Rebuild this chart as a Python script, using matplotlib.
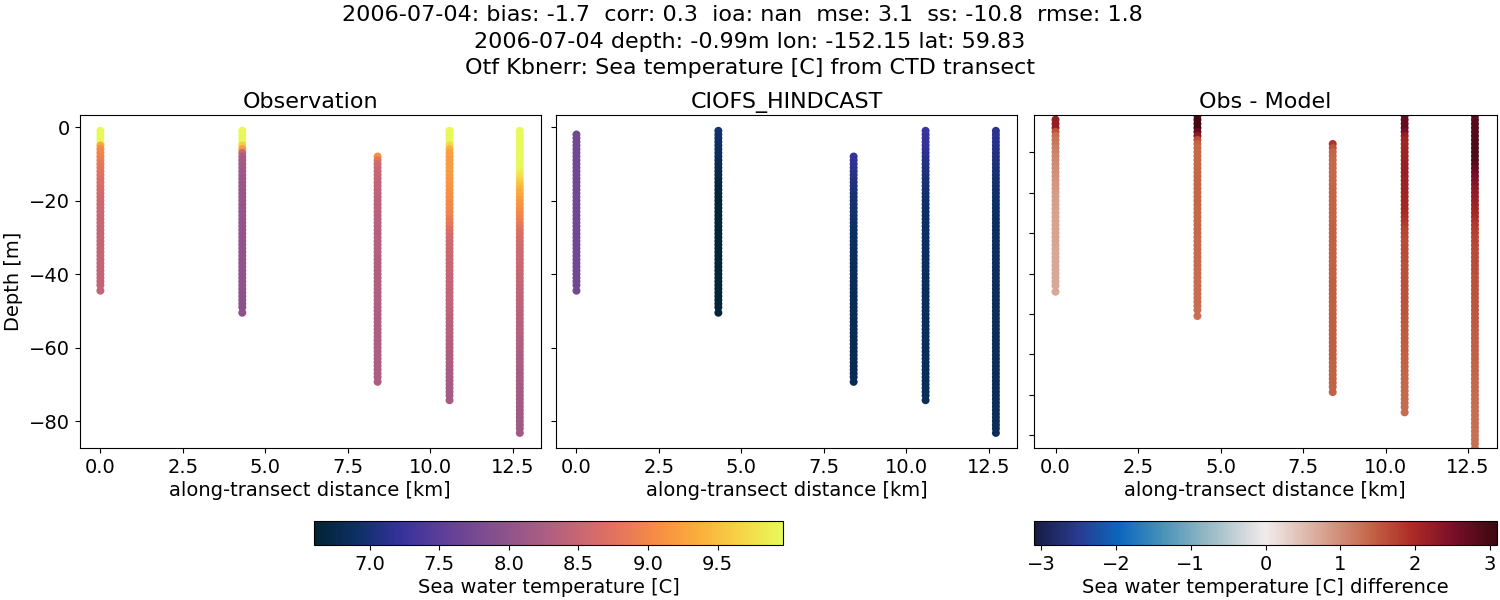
import numpy as np
import matplotlib
matplotlib.use("Agg")
import matplotlib.pyplot as plt
from matplotlib.colors import LinearSegmentedColormap, Normalize
from matplotlib.cm import ScalarMappable

# cast positions along the transect [km]
distance = [0.0, 4.30, 8.40, 10.58, 12.71]

# sample depths for each cast [m]
depth_0 = [-1, -2, -3, -4, -5, -6, -7, -8, -9, -10, -11, -12, -13, -14, -15, -16, -17, -18, -19, -20, -21, -22,
           -23, -24, -25, -26, -27, -28, -29, -30, -31, -32, -33, -34, -35, -36, -37, -38, -39, -40, -41, -42, -43, -44.5]
depth_1 = [-1, -2, -3, -4, -5, -6, -7, -8, -9, -10, -11, -12, -13, -14, -15, -16, -17, -18, -19, -20, -21, -22,
           -23, -24, -25, -26, -27, -28, -29, -30, -31, -32, -33, -34, -35, -36, -37, -38, -39, -40, -41, -42, -43,
           -44, -45, -46, -47, -48, -49, -50.5]
depth_2 = [-8, -9, -10, -11, -12, -13, -14, -15, -16, -17, -18, -19, -20, -21, -22, -23, -24, -25, -26, -27, -28,
           -29, -30, -31, -32, -33, -34, -35, -36, -37, -38, -39, -40, -41, -42, -43, -44, -45, -46, -47, -48, -49,
           -50, -51, -52, -53, -54, -55, -56, -57, -58, -59, -60, -61, -62, -63, -64, -65, -66, -67, -68, -69.3]
depth_3 = [-1, -2, -3, -4, -5, -6, -7, -8, -9, -10, -11, -12, -13, -14, -15, -16, -17, -18, -19, -20, -21, -22,
           -23, -24, -25, -26, -27, -28, -29, -30, -31, -32, -33, -34, -35, -36, -37, -38, -39, -40, -41, -42, -43,
           -44, -45, -46, -47, -48, -49, -50, -51, -52, -53, -54, -55, -56, -57, -58, -59, -60, -61, -62, -63, -64,
           -65, -66, -67, -68, -69, -70, -71, -72, -73, -74.3]
depth_4 = [-1, -2, -3, -4, -5, -6, -7, -8, -9, -10, -11, -12, -13, -14, -15, -16, -17, -18, -19, -20, -21, -22,
           -23, -24, -25, -26, -27, -28, -29, -30, -31, -32, -33, -34, -35, -36, -37, -38, -39, -40, -41, -42, -43,
           -44, -45, -46, -47, -48, -49, -50, -51, -52, -53, -54, -55, -56, -57, -58, -59, -60, -61, -62, -63, -64,
           -65, -66, -67, -68, -69, -70, -71, -72, -73, -74, -75, -76, -77, -78, -79, -80, -81, -82, -83.2]

obs_0 = [9.95, 9.95, 9.95, 9.95, 9.3, 9.05, 9.0, 8.95, 8.9, 8.85, 8.8, 8.78, 8.75, 8.72, 8.7, 8.68, 8.65, 8.62,
         8.6, 8.58, 8.56, 8.55, 8.53, 8.52, 8.5, 8.5, 8.5, 8.49, 8.49, 8.49, 8.48, 8.48, 8.48, 8.47, 8.47, 8.47,
         8.46, 8.46, 8.46, 8.46, 8.45, 8.45, 8.45, 8.45]
obs_1 = [9.95, 9.95, 9.95, 9.95, 9.6, 9.2, 8.5, 8.25, 8.2, 8.18, 8.15, 8.13, 8.12, 8.1, 8.1, 8.08, 8.08, 8.07,
         8.06, 8.05, 8.05, 8.04, 8.04, 8.03, 8.03, 8.02, 8.02, 8.02, 8.01, 8.01, 8.01, 8.0, 8.0, 8.0, 8.0, 8.0,
         7.99, 7.99, 7.99, 7.98, 7.98, 7.98, 7.97, 7.97, 7.97, 7.96, 7.96, 7.96, 7.95, 7.95]
obs_2 = [9.1, 8.8, 8.6, 8.55, 8.52, 8.5, 8.47, 8.45, 8.44, 8.43, 8.42, 8.41, 8.4, 8.39, 8.38, 8.37, 8.36, 8.35,
         8.35, 8.34, 8.34, 8.33, 8.33, 8.33, 8.32, 8.32, 8.32, 8.32, 8.31, 8.31, 8.31, 8.31, 8.3, 8.3, 8.3, 8.3,
         8.3, 8.29, 8.29, 8.29, 8.29, 8.28, 8.28, 8.28, 8.28, 8.27, 8.27, 8.27, 8.27, 8.26, 8.26, 8.26, 8.26, 8.26,
         8.25, 8.25, 8.25, 8.25, 8.25, 8.25, 8.25, 8.25]
obs_3 = [9.95, 9.95, 9.95, 9.95, 9.7, 9.4, 9.25, 9.22, 9.2, 9.2, 9.2, 9.2, 9.2, 9.18, 9.17, 9.15, 9.12, 9.1,
         9.07, 9.05, 9.02, 9.0, 8.97, 8.95, 8.9, 8.85, 8.8, 8.72, 8.65, 8.6, 8.58, 8.56, 8.55, 8.54, 8.53, 8.52,
         8.51, 8.5, 8.5, 8.5, 8.49, 8.48, 8.48, 8.47, 8.46, 8.46, 8.45, 8.44, 8.43, 8.42, 8.4, 8.39, 8.38, 8.37,
         8.36, 8.35, 8.34, 8.33, 8.32, 8.3, 8.29, 8.28, 8.27, 8.26, 8.25, 8.24, 8.23, 8.22, 8.22, 8.21, 8.21, 8.2,
         8.2, 8.2]
obs_4 = [9.97, 9.97, 9.97, 9.97, 9.97, 9.97, 9.97, 9.97, 9.97, 9.96, 9.95, 9.9, 9.8, 9.7, 9.6, 9.5, 9.4, 9.33,
         9.27, 9.2, 9.15, 9.1, 9.05, 9.0, 8.95, 8.9, 8.82, 8.75, 8.7, 8.66, 8.63, 8.6, 8.58, 8.56, 8.55, 8.54, 8.53,
         8.52, 8.51, 8.5, 8.49, 8.48, 8.47, 8.46, 8.45, 8.44, 8.43, 8.42, 8.41, 8.4, 8.39, 8.38, 8.37, 8.36, 8.35,
         8.34, 8.33, 8.32, 8.31, 8.3, 8.29, 8.28, 8.27, 8.26, 8.25, 8.24, 8.23, 8.22, 8.21, 8.2, 8.19, 8.19, 8.18,
         8.18, 8.17, 8.17, 8.16, 8.16, 8.15, 8.15, 8.15, 8.15, 8.15]

# model temperature, first cast has no value at the top level
model_0 = [np.nan, 7.72, 7.72, 7.72, 7.72, 7.72, 7.72, 7.72, 7.72, 7.72, 7.72, 7.72, 7.72, 7.72, 7.72, 7.72, 7.72,
           7.72, 7.72, 7.72, 7.72, 7.72, 7.72, 7.72, 7.72, 7.72, 7.72, 7.72, 7.72, 7.72, 7.72, 7.72, 7.72, 7.72,
           7.72, 7.72, 7.72, 7.72, 7.72, 7.72, 7.72, 7.72, 7.72, 7.72]
model_1 = [6.98, 6.96, 6.94, 6.92, 6.9, 6.88, 6.86, 6.84, 6.82, 6.8, 6.78, 6.76, 6.74, 6.72, 6.7, 6.69, 6.68, 6.67,
           6.66, 6.65, 6.65, 6.65, 6.65, 6.65, 6.65, 6.65, 6.65, 6.65, 6.65, 6.65, 6.65, 6.65, 6.65, 6.65, 6.65, 6.65,
           6.65, 6.65, 6.65, 6.65, 6.65, 6.65, 6.65, 6.65, 6.65, 6.65, 6.65, 6.65, 6.65, 6.65]
model_2 = [7.22, 7.2, 7.18, 7.16, 7.14, 7.12, 7.1, 7.08, 7.06, 7.04, 7.02, 7.0, 6.99, 6.98, 6.97, 6.96, 6.95, 6.94,
           6.93, 6.92, 6.91, 6.9, 6.9, 6.89, 6.89, 6.88, 6.88, 6.87, 6.87, 6.86, 6.86, 6.85, 6.85, 6.85, 6.84, 6.84,
           6.84, 6.83, 6.83, 6.83, 6.83, 6.82, 6.82, 6.82, 6.82, 6.81, 6.81, 6.81, 6.81, 6.8, 6.8, 6.8, 6.8, 6.8,
           6.8, 6.8, 6.8, 6.8, 6.8, 6.8, 6.8, 6.8]
model_3 = [7.27, 7.26, 7.24, 7.22, 7.2, 7.18, 7.16, 7.14, 7.12, 7.1, 7.08, 7.06, 7.04, 7.02, 7.0, 6.99, 6.98, 6.96,
           6.95, 6.94, 6.93, 6.92, 6.92, 6.91, 6.91, 6.9, 6.9, 6.9, 6.9, 6.89, 6.89, 6.89, 6.89, 6.89, 6.88, 6.88,
           6.88, 6.88, 6.88, 6.88, 6.87, 6.87, 6.87, 6.87, 6.87, 6.87, 6.87, 6.87, 6.86, 6.86, 6.86, 6.86, 6.86, 6.86,
           6.86, 6.86, 6.86, 6.86, 6.85, 6.85, 6.85, 6.85, 6.85, 6.85, 6.85, 6.85, 6.85, 6.85, 6.85, 6.85, 6.85, 6.85,
           6.85, 6.85]
model_4 = [7.16, 7.15, 7.14, 7.13, 7.12, 7.1, 7.08, 7.06, 7.05, 7.03, 7.02, 7.0, 6.99, 6.98, 6.96, 6.95, 6.94, 6.93,
           6.93, 6.92, 6.92, 6.91, 6.91, 6.9, 6.9, 6.9, 6.9, 6.89, 6.89, 6.89, 6.89, 6.88, 6.88, 6.88, 6.88, 6.88,
           6.88, 6.87, 6.87, 6.87, 6.87, 6.87, 6.87, 6.87, 6.87, 6.86, 6.86, 6.86, 6.86, 6.86, 6.86, 6.86, 6.86, 6.86,
           6.86, 6.86, 6.86, 6.85, 6.85, 6.85, 6.85, 6.85, 6.85, 6.85, 6.85, 6.85, 6.85, 6.85, 6.85, 6.85, 6.85, 6.85,
           6.85, 6.85, 6.85, 6.85, 6.85, 6.85, 6.85, 6.85, 6.85, 6.85, 6.85]

# cmocean thermal and balance, cmocean itself is not available here
thermal_colors = ["#032333", "#0d3064", "#35329b", "#5d3e99", "#7e4d8f", "#9e5987",
                  "#c16479", "#e17161", "#f68b45", "#fbad3c", "#f6d346", "#e7fa5a"]
balance_colors = ["#171c42", "#293a8f", "#0b66bd", "#4590b9", "#8eb5c2", "#d2d8db",
                  "#e6d2cc", "#d59d89", "#c46548", "#ac2b24", "#780e28", "#3c0911"]

title = ("2006-07-04: bias: -1.7  corr: 0.3  ioa: nan  mse: 3.1  ss: -10.8  rmse: 1.8  \n"
         "2006-07-04 depth: -0.99m lon: -152.15 lat: 59.83\n"
         "Otf Kbnerr: Sea temperature [C] from CTD transect")
panel_titles = ["Observation", "CIOFS_HINDCAST", "Obs - Model"]

depths = [depth_0, depth_1, depth_2, depth_3, depth_4]
obs = [obs_0, obs_1, obs_2, obs_3, obs_4]
model = [model_0, model_1, model_2, model_3, model_4]

thermal = LinearSegmentedColormap.from_list("thermal", thermal_colors)

# the list of 12 balance colours skips the pale middle, so put it back at 0.5
balance_stops = [(i / 11, c) for i, c in enumerate(balance_colors)]
balance_stops.insert(6, (0.5, "#f1eceb"))
balance = LinearSegmentedColormap.from_list("balance", balance_stops)

temp_norm = Normalize(6.6, 9.97)
diff_norm = Normalize(-3.1, 3.1)

plt.rcParams["font.size"] = 14

W, H = 1500.0, 600.0
fig = plt.figure(figsize=(15, 6), dpi=100)


def pixel_axes(left, top, right, bottom):
    return fig.add_axes([left / W, 1 - bottom / H, (right - left) / W, (bottom - top) / H])


ax1 = pixel_axes(79.6, 115, 540.6, 448)
ax2 = pixel_axes(556, 115, 1017, 448)
ax3 = pixel_axes(1033.6, 115, 1496.6, 448)

for x, d, o, m in zip(distance, depths, obs, model):
    xs = [x] * len(d)
    ax1.scatter(xs, d, c=o, cmap=thermal, norm=temp_norm, s=33, linewidths=0)
    ax2.scatter(xs, d, c=m, cmap=thermal, norm=temp_norm, s=33, linewidths=0)
    ax3.scatter(xs, d, c=np.array(o) - np.array(m), cmap=balance, norm=diff_norm, s=33, linewidths=0)

for ax, name in zip([ax1, ax2, ax3], panel_titles):
    ax.set_title(name, fontsize=16, pad=5)
    ax.set_xticks([0, 2.5, 5, 7.5, 10, 12.5])
    ax.set_xticklabels(["0.0", "2.5", "5.0", "7.5", "10.0", "12.5"])
    ax.set_xlabel("along-transect distance [km]", labelpad=3)

ax1.set_xlim(-0.63, 13.34)
ax2.set_xlim(-0.62, 13.35)
ax3.set_xlim(-0.664, 13.366)

ax1.set_ylim(-87.3, 3.3)
ax2.set_ylim(-87.3, 3.3)
ax3.set_ylim(-83.1, -0.85)
ax1.set_yticks([0, -20, -40, -60, -80])
ax1.set_yticklabels(["0", "\u221220", "\u221240", "\u221260", "\u221280"])
ax2.set_yticks([0, -20, -40, -60, -80])
ax2.tick_params(labelleft=False)
ax3.set_yticks([-10, -20, -30, -40, -50, -60, -70, -80])
ax3.tick_params(labelleft=False)
ax1.set_ylabel("Depth [m]", labelpad=4)

cax1 = pixel_axes(314, 521, 783, 545)
cb1 = fig.colorbar(ScalarMappable(norm=temp_norm, cmap=thermal), cax=cax1, orientation="horizontal")
cb1.set_ticks([7.0, 7.5, 8.0, 8.5, 9.0, 9.5])
cb1.set_label("Sea water temperature [C]", labelpad=3)

cax2 = pixel_axes(1034, 521, 1497, 545)
cb2 = fig.colorbar(ScalarMappable(norm=diff_norm, cmap=balance), cax=cax2, orientation="horizontal")
cb2.set_ticks([-3, -2, -1, 0, 1, 2, 3])
cb2.set_label("Sea water temperature [C] difference", labelpad=3)

fig.text(0.5, 1 - 5.0 / H, title, fontsize=16, ha="center", va="top", linespacing=1.41)

fig.savefig("out.png", dpi=100)
